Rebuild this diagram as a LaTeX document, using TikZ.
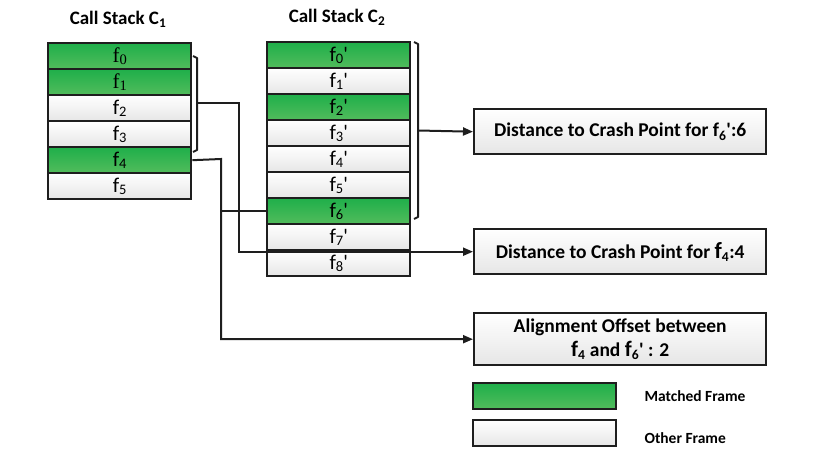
\documentclass[tikz,border=0pt]{standalone}
\usepackage{fontspec}
\setmainfont{Carlito}
\newfontfamily\serifrow{Liberation Serif}
\usetikzlibrary{arrows.meta,calc}
\definecolor{grtop}{HTML}{1FAF4A}
\definecolor{grbot}{HTML}{52BC5C}
\definecolor{wtbot}{HTML}{E6E6E6}
\definecolor{ink}{HTML}{1E1E1E}
\newcommand{\pr}{\textquotesingle}
\newcommand{\dsub}[1]{\raisebox{-1.5pt}{\fontsize{14.5}{14.5}\selectfont #1}}
\tikzset{
  row/.style={draw=ink,line width=2.4pt,minimum width=143pt,minimum height=26pt,inner sep=0pt,font=\fontsize{21}{21}\selectfont,anchor=north west},
  matched/.style={row,top color=grtop,bottom color=grbot},
  other/.style={row,top color=white,bottom color=wtbot},
  infobox/.style={draw=ink,line width=2.4pt,minimum width=292pt,inner sep=0pt,top color=white,bottom color=wtbot,font=\bfseries\fontsize{19.5}{24}\selectfont,align=center,anchor=north west},
  legbox/.style={draw=ink,line width=2.4pt,minimum width=143pt,minimum height=26pt,inner sep=0pt,anchor=north west},
  conn/.style={draw=ink,line width=2pt},
  arr/.style={conn,-{Triangle[length=10pt,width=8pt]}},
  brk/.style={draw=ink,line width=2pt,line join=round},
  title/.style={font=\bfseries\fontsize{19}{19}\selectfont},
  legtxt/.style={font=\bfseries\fontsize{15.5}{15.5}\selectfont,anchor=west}
}
\begin{document}
\begin{tikzpicture}[x=1pt,y=-1pt]
\useasboundingbox (0,0) rectangle (814,462);
% titles
\node[title] (t1) at (118,19) {Call Stack C\textsubscript{1}};
\node[title] (t2) at (337,17) {Call Stack C\textsubscript{2}};
% stack C1
\node[matched] (a0) at (47,42) {\serifrow f\dsub{0}};
\node[matched] (a1) at (47,68) {\serifrow f\dsub{1}};
\node[other]   (a2) at (47,94) {f\dsub{2}};
\node[other]   (a3) at (47,120) {f\dsub{3}};
\node[matched] (a4) at (47,146) {f\dsub{4}};
\node[other]   (a5) at (47,172) {f\dsub{5}};
% stack C2
\node[matched] (b0) at (266,41) {f\dsub{0}\pr};
\node[other]   (b1) at (266,67) {f\dsub{1}\pr};
\node[matched] (b2) at (266,93) {f\dsub{2}\pr};
\node[other]   (b3) at (266,119) {f\dsub{3}\pr};
\node[other]   (b4) at (266,145) {f\dsub{4}\pr};
\node[other]   (b5) at (266,171) {f\dsub{5}\pr};
\node[matched] (b6) at (266,197) {f\dsub{6}\pr};
\node[other]   (b7) at (266,223) {f\dsub{7}\pr};
\node[other]   (b8) at (266,249) {f\dsub{8}\pr};
% info boxes
\node[infobox,minimum height=45pt] (d1) at (473,108) {Distance to Crash Point for f\textsubscript{6}\pr:6};
\node[infobox,minimum height=45pt] (d2) at (473,228) {Distance to Crash Point for {\fontsize{23}{23}\selectfont f}\textsubscript{4}:4};
\node[infobox,minimum height=52pt] (d3) at (473,312) {Alignment Offset between\\{\fontsize{22}{22}\selectfont f}\textsubscript{4} and {\fontsize{22}{22}\selectfont f}\textsubscript{6}\pr{} : 2};
% legend
\node[legbox,top color=grtop,bottom color=grbot] (lg) at (472,382) {};
\node[legbox,top color=white,bottom color=wtbot] (lo) at (472,419) {};
\node[legtxt] (lgt) at (641,396) {Matched Frame};
\node[legtxt] (lot) at (641,438) {Other Frame};
% brackets
\draw[brk] (193,56) -- (197,58) -- (197,150) -- (193,152);
\coordinate (br1) at (197,103);
\draw[brk] (414,42) -- (418,44) -- (418,217) -- (414,219);
\coordinate (br2) at (418,130.5);
% connectors
\coordinate (v1) at (239,103);
\coordinate (v4) at (221,159);
\draw[arr] (br1) -- (v1) |- (d2.west);
\draw[arr] (a4.east) -- (v4) |- (d3.west);
\draw[conn] (b6.west) -- (b6.west -| v4);
\draw[arr] (br2) -- (d1.west);
\end{tikzpicture}
\end{document}
